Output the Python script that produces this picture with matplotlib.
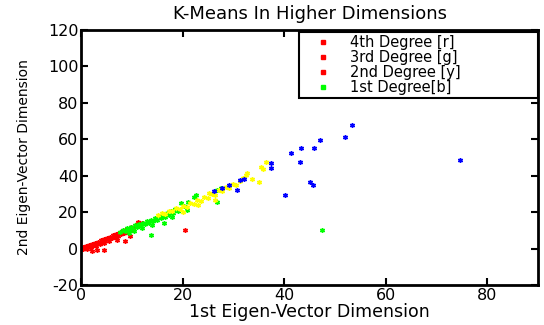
import numpy as np
import matplotlib
matplotlib.use('Agg')
from matplotlib import pyplot as plt
from matplotlib.lines import Line2D

# points (1st eigen-vector, 2nd eigen-vector)
red_pts = [(0.0, 0.0), (0.3, 0.8), (0.6, 0.2), (0.9, 1.3), (1.2, 0.6), (1.5, 1.9), (1.8, 1.1),
           (2.1, 2.6), (2.4, 1.7), (2.7, 3.1), (3.0, 2.4), (3.3, 3.8), (3.6, 2.9), (3.9, 4.5),
           (4.2, 3.6), (4.5, 5.0), (4.8, 4.3), (5.1, 5.8), (5.4, 5.0), (5.7, 6.6), (6.0, 5.6),
           (6.3, 7.3), (6.6, 6.4), (6.9, 8.0), (7.2, 7.1), (7.5, 8.8), (7.8, 7.9), (8.1, 9.5),
           (8.4, 8.7), (8.7, 10.2), (9.0, 9.4), (9.3, 10.9), (9.6, 10.1), (9.9, 11.6),
           (10.3, 11.2), (10.8, 12.6), (11.3, 14.8), (11.0, 13.4), (12.0, 13.8),
           (0.4, -0.4), (1.1, -0.2), (2.0, 0.9), (2.9, 1.4), (3.8, 2.3), (4.6, 2.8), (5.5, 3.9),
           (2.1, -1.1), (3.2, -0.8), (4.5, -0.8), (7.0, 4.7), (8.6, 4.2), (9.7, 6.9), (20.4, 10.2)]

green_pts = [(7.7, 9.3), (8.2, 10.4), (8.6, 9.6), (9.0, 11.2), (9.4, 10.3), (9.8, 11.9),
             (10.2, 11.0), (10.6, 12.7), (11.0, 11.8), (11.4, 13.5), (11.8, 12.6), (12.2, 14.3),
             (12.6, 13.3), (13.0, 15.1), (13.4, 14.1), (13.8, 15.9), (14.2, 15.0), (14.6, 16.8),
             (15.0, 15.8), (15.4, 17.7), (15.8, 16.7), (16.2, 18.6), (16.6, 17.6), (17.0, 19.6),
             (17.4, 18.6), (17.8, 20.6), (18.2, 19.7), (18.6, 21.7), (19.0, 20.8), (19.6, 24.9),
             (20.2, 23.4), (21.0, 25.5), (22.3, 28.5), (22.6, 29.3), (26.8, 32.2), (27.5, 33.4),
             (16.3, 14.2), (13.8, 7.5), (20.9, 21.2), (26.8, 25.4), (47.4, 10.2),
             (10.5, 9.4), (12.0, 11.2), (14.0, 13.0), (9.5, 8.8), (18.0, 17.2)]

yellow_pts = [(15.2, 18.6), (15.9, 19.6), (16.6, 19.2), (17.3, 20.8), (18.0, 20.4), (18.7, 22.1),
              (19.4, 21.7), (20.1, 23.5), (20.8, 23.0), (21.5, 25.0), (22.2, 24.5), (22.9, 26.6),
              (23.6, 26.1), (24.3, 28.3), (25.0, 27.8), (25.7, 30.1), (26.4, 29.6), (27.1, 31.9),
              (27.8, 31.4), (28.5, 33.6), (29.2, 33.1), (29.9, 35.3), (30.6, 34.8), (31.3, 36.9),
              (31.9, 38.6), (32.4, 40.2), (32.7, 41.4), (33.7, 38.0), (35.0, 36.4), (35.4, 45.0),
              (35.8, 43.8), (36.5, 47.5), (26.3, 26.7), (25.2, 30.4), (20.0, 19.8), (23.0, 24.0)]

blue_pts = [(53.4, 67.8), (52.0, 61.5), (47.0, 59.7), (45.8, 55.4), (43.4, 55.3), (41.4, 52.7),
            (37.4, 47.2), (37.4, 44.4), (43.2, 47.4), (45.0, 36.8), (45.7, 34.8), (40.1, 29.5),
            (74.6, 48.8), (32.0, 38.4), (31.4, 37.7), (30.8, 32.4), (29.1, 34.9), (27.7, 33.1),
            (26.2, 31.5)]

legend_labels = ['4th Degree [r]', '3rd Degree [g]', '2nd Degree [y]', '1st Degree[b]']
legend_colors = ['#ff0000', '#ff0000', '#ff0000', '#00ff00']

plt.rcParams['font.family'] = 'DejaVu Sans'
plt.rcParams['axes.unicode_minus'] = False

fig = plt.figure(figsize=(5.44, 3.25), dpi=100)
ax = fig.add_axes([0.149, 0.123, 0.84, 0.785])

for pts, col in [(red_pts, '#ff0000'), (green_pts, '#00ff00'),
                 (yellow_pts, '#ffff00'), (blue_pts, '#0000ff')]:
    a = np.array(pts)
    ax.plot(a[:, 0], a[:, 1], ls='none', marker=(6, 2, 0), ms=3.5, mew=1.0, color=col)

ax.set_xlim(0, 90)
ax.set_ylim(-20, 120)
ax.set_xticks([0, 20, 40, 60, 80])
ax.set_yticks(np.arange(-20, 121, 20))
ax.tick_params(direction='in', top=True, right=True, length=5, width=1.5,
               labelsize=11.5, pad=2)
for s in ax.spines.values():
    s.set_linewidth(2)

ax.set_title('K-Means In Higher Dimensions', fontsize=13, pad=8)
ax.set_xlabel('1st Eigen-Vector Dimension', fontsize=12.5, labelpad=0)
ax.set_ylabel('2nd Eigen-Vector Dimension', fontsize=10, labelpad=12)

handles = [Line2D([], [], ls='none', marker='s', ms=2.5, color=c) for c in legend_colors]
leg = ax.legend(handles, legend_labels, loc='upper left',
                bbox_to_anchor=(0.477, 0.765, 0.523, 0.227), mode='expand',
                borderaxespad=0, fontsize=10.5, labelspacing=0, borderpad=0.2,
                handlelength=2.9, handletextpad=0.4, fancybox=False, framealpha=1)
leg.get_frame().set_edgecolor('black')
leg.get_frame().set_linewidth(1.5)

plt.savefig('out.png', dpi=100)
